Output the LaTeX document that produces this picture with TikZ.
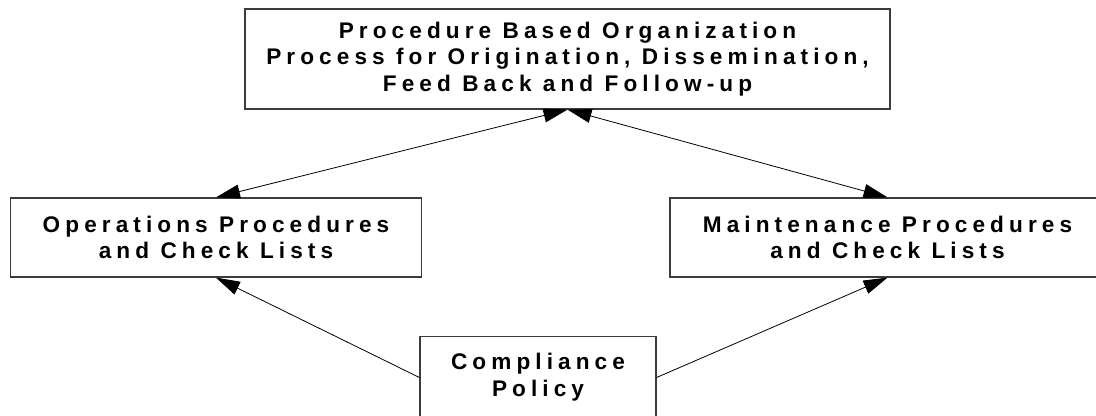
\documentclass[tikz,border=0pt]{standalone}
\usepackage{fontspec}
\newfontfamily\boxFont[LetterSpace=22.5]{Liberation Sans}
\usetikzlibrary{arrows.meta}
\tikzstyle{diagram} = [x = .5pt, y = -.5pt]
\definecolor{borderColor}{RGB}{60,60,60}
\tikzstyle{boxStyle} = [draw=borderColor, line width=.6pt, align=center, inner sep=0pt, font=\boxFont\bfseries\fontsize{11.3}{13.4}\selectfont]
\tikzstyle{twoWay} = [line width=.4pt, {Triangle[length=12pt,width=7pt]}-{Triangle[length=12pt,width=7pt]}]
\tikzstyle{oneWay} = [line width=.4pt, -{Triangle[length=12pt,width=7pt]}]
\begin{document}
\begin{tikzpicture}[diagram]
  \useasboundingbox (0,0) rectangle (1096,416);
  \node [boxStyle, minimum width=322.5pt, minimum height=50pt] (procBox) at (567.5,59)
    {Procedure Based Organization\\Process for Origination, Dissemination,\\Feed Back and Follow-up};
  \node [boxStyle, minimum width=205.5pt, minimum height=39.5pt] (opsBox) at (216,237.5)
    {Operations Procedures\\and Check Lists};
  \node [boxStyle, minimum width=217.5pt, minimum height=39.5pt] (maintBox) at (887.5,237.5)
    {Maintenance Procedures\\and Check Lists};
  \node [boxStyle, minimum width=118pt, minimum height=41pt] (complianceBox) at (538,377.5)
    {Compliance\\Policy};

  \draw [twoWay] (opsBox.north) -- (procBox.south);
  \draw [twoWay] (maintBox.north) -- (procBox.south);
  \draw [oneWay] (complianceBox.west) -- (opsBox.south);
  \draw [oneWay] (complianceBox.east) -- (maintBox.south);
\end{tikzpicture}
\end{document}
